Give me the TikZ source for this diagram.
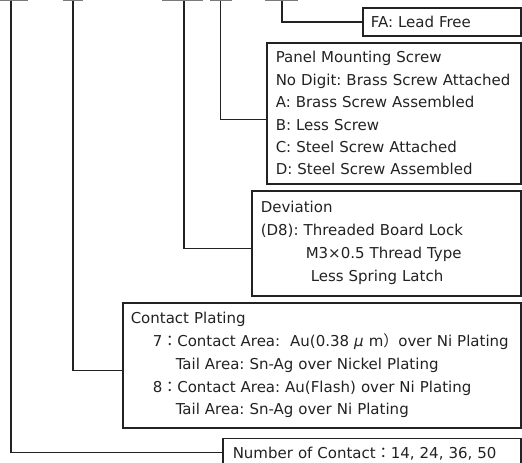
\documentclass[tikz,border=0pt]{standalone}
\usepackage{fontspec}
\setmainfont{DejaVu Sans}
\newfontfamily\jpfont{Noto Sans CJK JP}
\newcommand{\fwc}{{\jpfont ：}}
\usetikzlibrary{positioning}
\definecolor{ink}{HTML}{222222}
\tikzstyle{optbox} = [draw=ink,line width=1.5pt,rectangle,anchor=north west,align=left,inner ysep=0pt,text=ink,font=\fontsize{15}{22.6}\selectfont]
\tikzstyle{lead} = [-,draw=ink,line width=1.5pt]
\tikzstyle{digitbar} = [-,draw=ink!60,line width=1.2pt]
\frenchspacing

\begin{document}
\begin{tikzpicture}[x=1pt,y=1pt]
      \useasboundingbox (0,0) rectangle (522,-463);
      % bars under the part number
      \draw[digitbar] (0,-0.5) -- (28,-0.5);
      \draw[digitbar] (63,-0.5) -- (83,-0.5);
      \draw[digitbar] (162,-0.5) -- (203,-0.5);
      \draw[digitbar] (210,-0.5) -- (232,-0.5);
      \draw[digitbar] (265,-0.5) -- (298,-0.5);
      \coordinate (p1) at (11,-0.5);
      \coordinate (p2) at (73,-0.5);
      \coordinate (p3) at (184,-0.5);
      \coordinate (p4) at (220.5,-0.5);
      \coordinate (p5) at (282,-0.5);
      % option boxes
      \node[optbox,inner xsep=8pt,text width=142pt,minimum height=28pt] (fa) at (362,-7) {FA: Lead Free};
      \node[optbox,inner xsep=9pt,text width=236pt,minimum height=141pt,font=\fontsize{15}{22.4}\selectfont] (panel) at (266,-42)
        {Panel Mounting Screw\\No Digit: Brass Screw Attached\\A: Brass Screw Assembled\\B: Less Screw\\C: Steel Screw Attached\\D: Steel Screw Assembled};
      \node[optbox,inner xsep=9pt,text width=251pt,minimum height=105pt,font=\fontsize{15}{23}\selectfont] (dev) at (251,-190)
        {Deviation\\(D8): Threaded Board Lock\\\hspace*{45pt}M3×0.5 Thread Type\\\hspace*{50pt}Less Spring Latch};
      \node[optbox,inner xsep=8pt,text width=382pt,minimum height=125pt,font=\fontsize{15}{22.8}\selectfont] (plating) at (122,-302)
        {Contact Plating\\\hspace*{22pt}7\fwc Contact Area:\ \ Au(0.38 \textit{μ} m{\jpfont ）}over Ni Plating\\\hspace*{45pt}Tail Area: Sn-Ag over Nickel Plating\\\hspace*{22pt}8\fwc Contact Area: Au(Flash) over Ni Plating\\\hspace*{45pt}Tail Area: Sn-Ag over Ni Plating};
      \node[optbox,inner xsep=10pt,text width=278pt,minimum height=30pt] (num) at (222,-437.5) {Number of Contact\fwc 14, 24, 36, 50};
      % leaders
      \draw[lead] (p5) |- (fa.west);
      \draw[lead] (p4) |- ([yshift=-6pt]panel.west);
      \draw[lead] (p3) |- ([yshift=-5pt]dev.west);
      \draw[lead] (p2) |- ([yshift=-5pt]plating.west);
      \draw[lead] (p1) |- ([yshift=1pt]num.west);
\end{tikzpicture}
\end{document}
